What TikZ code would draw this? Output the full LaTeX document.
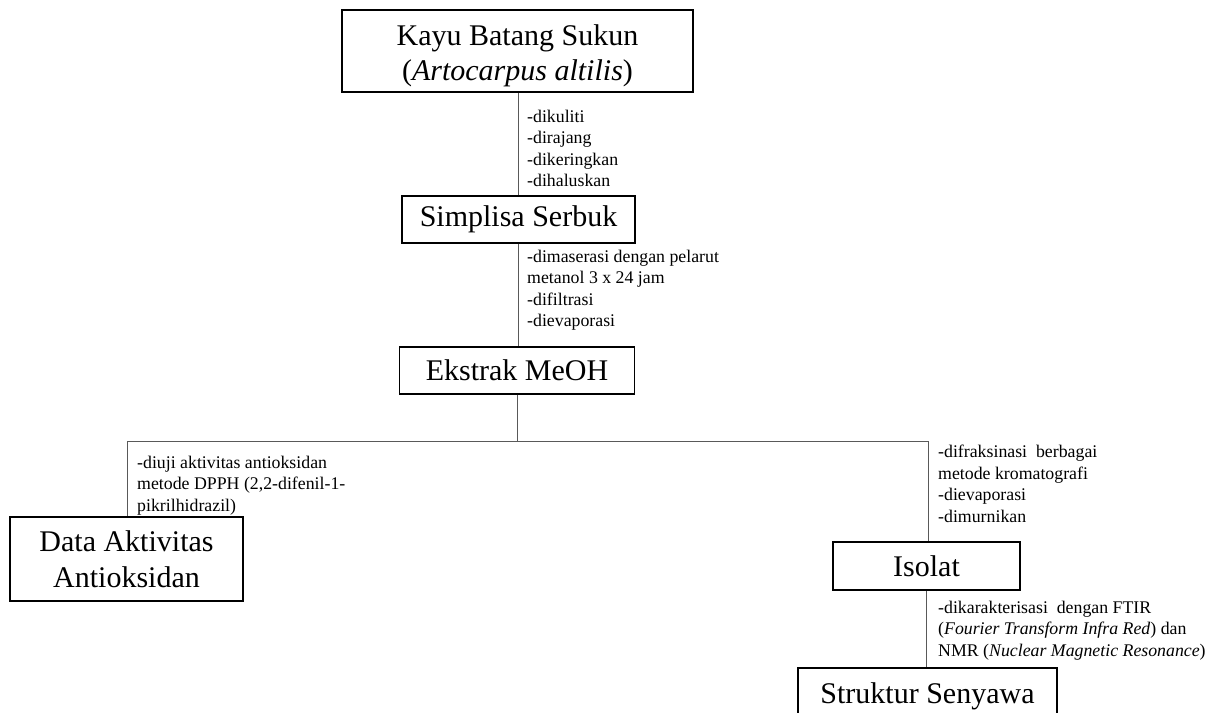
\documentclass[tikz,border=0pt]{standalone}
\usepackage{fontspec}
\setmainfont{Liberation Serif}
\begin{document}
\begin{tikzpicture}[x=1pt,y=-1pt,
  box/.style={draw=black, line width=1.3pt, align=center, inner sep=0pt, font=\fontsize{30}{35.5}\selectfont},
  conn/.style={draw=black!65, line width=1pt},
  lbl/.style={anchor=north west, inner sep=0pt, align=left, font=\fontsize{17.8}{21.5}\selectfont}]
\useasboundingbox (0,0) rectangle (1223,712);
\clip (0,0) rectangle (1223,712);
% boxes
\node[box, minimum width=351pt, minimum height=82pt] (b1) at (517.5,51)
  {\rule{0pt}{30.5pt}Kayu Batang Sukun\\(\textit{Artocarpus altilis})};
\node[box, minimum width=233pt, minimum height=47pt] (b2) at (518.5,219.5) {Simplisa Serbuk};
\node[box, minimum width=235pt, minimum height=47pt] (b3) at (517,370.5) {Ekstrak MeOH};
\node[box, minimum width=233pt, minimum height=84pt] (b4) at (126.5,559) {Data Aktivitas\\Antioksidan};
\node[box, minimum width=187pt, minimum height=48pt] (b5) at (926.5,566) {Isolat};
\node[box, minimum width=259pt, minimum height=56pt] (b6) at (927.5,696) {Struktur Senyawa};
% connectors
\coordinate (jl) at (127,441);
\coordinate (jr) at (928,441);
\draw[conn] (b2.north) -- (b2.north |- b1.south);
\draw[conn] (b2.south) -- (b2.south |- b3.north);
\draw[conn] (b3.south) -- (b3.south |- jl);
\draw[conn] (jl) -- (jr);
\draw[conn] (jl) -- (jl |- b4.north);
\draw[conn] (jr) -- (jr |- b5.north);
\draw[conn] (b5.south) -- (b5.south |- b6.north);
% labels
\node[lbl] (l1) at (527,109.8) {-dikuliti\\-dirajang\\-dikeringkan\\-dihaluskan};
\node[lbl] (l2) at (527,249.8) {-dimaserasi dengan pelarut\\metanol 3 x 24 jam\\-difiltrasi\\-dievaporasi};
\node[lbl] (l3) at (137,455.8) {-diuji aktivitas antioksidan\\metode DPPH (2,2-difenil-1-\\pikrilhidrazil)};
\node[lbl] (l4) at (938,444.8) {-difraksinasi\ \ berbagai\\metode kromatografi\\-dievaporasi\\-dimurnikan};
\node[lbl] (l5) at (938,600.8) {-dikarakterisasi\ \ dengan FTIR\\(\textit{Fourier Transform Infra Red}) dan\\NMR (\textit{Nuclear Magnetic Resonance})};
\end{tikzpicture}
\end{document}
